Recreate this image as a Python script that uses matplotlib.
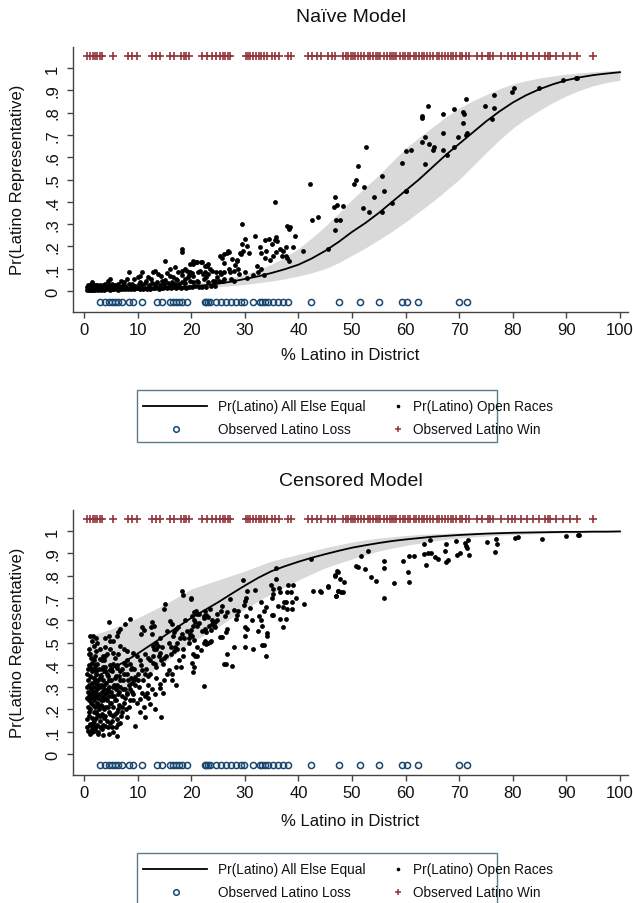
import matplotlib
matplotlib.use("Agg")
import matplotlib.pyplot as plt
from matplotlib.lines import Line2D
from matplotlib.patches import Rectangle

plt.rcParams['font.family'] = ['Liberation Sans', 'DejaVu Sans']

# ---------------- data ----------------
grid_x = [1, 2.5, 5, 7.5, 10, 12.5, 15, 17.5, 20, 22.5, 25, 27.5, 30, 32.5, 35, 37.5, 40, 42.5,
          45, 47.5, 50, 52.5, 55, 57.5, 60, 62.5, 65, 67.5, 70, 72.5, 75, 77.5, 80, 82.5, 85,
          87.5, 90, 92.5, 95, 97.5, 100]

naive_curve = [.004, .005, .006, .007, .009, .011, .014, .017, .021, .026, .033, .042, .054, .066,
               .081, .098, .118, .146, .18, .22, .265, .305, .35, .40, .45, .50, .555, .61, .66,
               .71, .76, .805, .845, .878, .905, .927, .945, .958, .968, .975, .981]
naive_upper = [.006, .007, .009, .011, .014, .018, .022, .028, .034, .041, .05, .061, .075, .095,
               .12, .152, .19, .238, .29, .348, .41, .465, .52, .58, .64, .688, .735, .78, .82,
               .852, .88, .907, .928, .943, .955, .964, .972, .978, .983, .987, .99]
naive_lower = [.002, .0025, .003, .004, .005, .006, .008, .010, .012, .015, .019, .024, .03, .037,
               .045, .055, .067, .082, .10, .127, .16, .193, .23, .268, .31, .355, .40, .45, .50,
               .56, .62, .677, .73, .773, .81, .845, .875, .90, .92, .935, .945]

cens_curve = [.335, .35, .38, .413, .45, .49, .53, .57, .61, .645, .68, .718, .755, .79, .82, .842,
              .862, .88, .896, .911, .925, .936, .946, .955, .962, .968, .974, .978, .982, .985,
              .988, .99, .992, .993, .994, .995, .996, .996, .997, .997, .998]
cens_upper = [.53, .54, .56, .585, .61, .64, .67, .705, .74, .76, .78, .80, .82, .843, .865, .88,
              .895, .91, .925, .938, .95, .96, .968, .974, .98, .984, .987, .99, .992, .994, .995,
              .996, .997, .997, .998, .998, .999, .999, .999, .999, 1.0]
cens_lower = [.22, .235, .26, .29, .32, .365, .41, .455, .50, .535, .57, .61, .65, .685, .72, .75,
              .78, .808, .835, .855, .875, .893, .91, .923, .935, .945, .955, .962, .968, .973,
              .977, .981, .984, .986, .988, .99, .991, .992, .993, .994, .995]

wins_x = [0.6, 1.1, 1.6, 2.0, 2.5, 3.0, 3.4, 5.5, 8.2, 8.9, 9.9, 12.7, 13.4, 14.2, 16.0, 16.7,
          18.1, 18.6, 19.0, 19.5, 22.0, 23.0, 23.8, 24.6, 25.3, 25.9, 26.3, 26.8, 27.2,
          30.2, 30.6, 31.0, 31.6, 32.1, 32.7, 33.1, 33.6, 34.2, 35.0, 35.7, 36.4, 38.0, 38.7,
          41.8, 42.6, 43.4, 44.2, 45.6, 46.2, 46.8,
          48.4, 48.9, 49.3, 49.8, 50.2, 50.6, 51.1, 51.7, 52.3, 52.9, 53.4, 53.9, 54.4, 54.8,
          55.3, 55.9, 56.6, 57.0, 57.4, 57.8, 58.3, 58.9, 59.5, 59.9, 60.4, 60.9, 61.5, 62.0,
          62.5, 63.0, 63.5, 64.0, 64.6, 65.2, 65.8, 66.3, 66.8, 67.3, 67.9, 68.4, 68.9, 69.5,
          70.1, 70.6, 71.2, 71.8, 73.3, 74.2, 75.3, 75.8, 76.3, 77.8, 79.2, 79.8, 80.4, 81.6,
          82.7, 83.8, 84.9, 86.0, 86.5, 87.0, 88.0, 89.4, 90.6, 91.9, 95.0]

losses_x = [3.0, 3.9, 4.6, 5.2, 5.8, 6.4, 7.1, 8.3, 9.1, 10.8, 13.6, 14.6, 16.1, 16.6, 17.1,
            17.7, 18.3, 19.3, 22.5, 22.8, 23.1, 23.5, 24.6, 25.5, 26.5, 27.5, 28.3, 29.3, 29.8,
            31.5, 32.9, 33.3, 33.8, 34.3, 35.2, 36.2, 37.1, 38.0, 42.3, 47.5, 51.5, 55.0, 59.3,
            60.2, 62.4, 70.0, 71.5]

# naive model: Pr(Latino) in open races (x, y)
naive_base = [
    (0.5, .004), (0.7, .008), (0.9, .005), (1.0, .010), (1.2, .006), (1.4, .004), (1.5, .009), (1.7, .006),
    (1.9, .011), (2.0, .005), (2.2, .008), (2.4, .012), (2.6, .006), (2.7, .010), (2.9, .007), (3.1, .005),
    (3.3, .011), (3.5, .008), (3.6, .013), (3.8, .006), (4.0, .009), (4.2, .012), (4.4, .007), (4.6, .010),
    (4.8, .006), (5.0, .013), (5.2, .008), (5.4, .011), (5.6, .007), (5.9, .012), (6.1, .009), (6.3, .006),
    (6.6, .013), (6.8, .010), (7.1, .008), (7.3, .014), (7.6, .009), (7.9, .012), (8.2, .007), (8.5, .013),
    (8.8, .010), (9.1, .015), (9.4, .008), (9.7, .012), (10.0, .014), (10.4, .010), (10.7, .016), (11.0, .009),
    (11.4, .013), (11.7, .011), (12.1, .016), (12.4, .010), (12.8, .014), (13.2, .012), (13.5, .017), (13.9, .011),
    (14.3, .015), (14.7, .013), (15.1, .018), (15.5, .012), (15.9, .016), (16.3, .014), (16.8, .019), (17.2, .013),
    (17.7, .017), (18.1, .015), (18.6, .020), (19.1, .014), (19.6, .018), (20.2, .016), (20.8, .021), (21.4, .017),
    (22.1, .020), (22.8, .019), (23.6, .022), (24.5, .024),
]
naive_mid = [
    (0.6, .018), (0.8, .025), (1.1, .015), (1.3, .030), (1.4, .039), (1.6, .020), (1.7, .031), (1.9, .024),
    (2.1, .017), (2.3, .028), (2.5, .028), (2.7, .020), (3.0, .025), (3.1, .024), (3.4, .018), (3.6, .027),
    (3.9, .021), (4.0, .031), (4.3, .019), (4.5, .046), (4.7, .026), (4.9, .054), (5.1, .022), (5.3, .030),
    (5.6, .019), (5.8, .027), (6.1, .023), (6.4, .032), (6.7, .020), (6.9, .046), (7.2, .026), (7.5, .039),
    (7.7, .021), (8.1, .054), (8.3, .084), (8.4, .030), (8.7, .024), (9.0, .033), (9.4, .054), (9.6, .022),
    (10.0, .061), (10.2, .030), (10.4, .039), (10.4, .069), (10.8, .084), (10.9, .026), (11.3, .035), (11.6, .046),
    (11.9, .061), (12.2, .028), (12.5, .054), (12.7, .037), (12.9, .084), (13.2, .090), (13.3, .030), (13.8, .076),
    (13.7, .040), (14.1, .026), (14.4, .069), (14.5, .045), (14.9, .032), (15.1, .136), (15.4, .080), (15.2, .050),
    (15.6, .035), (16.0, .099), (16.0, .069), (16.2, .028), (16.6, .061), (16.5, .042), (16.9, .106), (17.0, .033),
    (17.2, .054), (17.5, .084), (17.4, .048), (17.8, .030), (18.2, .091), (18.2, .188), (18.2, .173), (18.2, .070),
    (18.3, .040), (18.8, .099), (18.8, .054), (18.9, .034), (19.2, .090), (19.4, .061), (19.5, .070), (19.7, .121),
    (19.7, .084), (19.8, .045), (20.1, .080), (20.3, .136), (20.3, .069), (20.4, .120), (20.3, .039), (20.9, .132),
    (21.0, .130), (21.0, .045), (21.3, .084), (21.3, .039), (21.6, .090), (21.8, .129), (22.0, .130), (22.2, .076),
    (22.3, .055), (22.5, .114), (22.6, .085), (22.8, .061), (22.9, .110), (23.1, .121), (23.2, .075), (23.2, .039),
    (23.5, .100), (23.8, .090), (24.1, .045), (24.4, .046), (24.7, .084), (24.8, .065), (25.1, .045), (25.3, .158),
    (25.4, .085), (25.6, .076), (25.7, .150), (25.9, .046), (26.1, .166), (26.1, .125), (26.1, .055), (26.2, .084),
    (26.6, .170), (26.8, .180), (27.1, .099), (27.1, .175), (27.2, .085), (27.4, .054), (27.7, .143), (27.9, .090),
    (27.9, .045), (28.2, .115), (28.5, .140), (28.6, .136), (28.8, .100), (28.9, .076), (29.1, .170), (29.2, .166),
    (29.4, .300), (29.5, .210), (29.7, .180), (30.0, .235), (30.0, .085), (30.4, .200), (30.4, .060), (30.7, .170),
    (31.6, .070), (31.9, .245), (32.2, .110), (32.5, .085), (32.8, .196), (33.1, .170), (33.1, .100), (33.5, .070),
    (33.8, .230), (33.8, .150), (34.0, .180), (34.6, .235), (34.7, .140), (35.0, .210), (35.3, .155), (35.6, .230),
    (35.7, .400), (35.8, .240), (35.9, .175), (36.1, .225), (36.6, .190), (36.9, .155), (37.2, .180), (37.6, .196),
    (37.6, .155), (37.8, .290), (37.8, .150), (38.2, .280), (38.2, .136), (38.4, .285), (38.9, .196), (39.4, .245),
]
naive_high = [
    (40.9, .18), (42.2, .48), (42.5, .32), (43.7, .33), (45.5, .19), (46.8, .275), (46.7, .375), (46.9, .42),
    (47.2, .385), (47.0, .32), (47.7, .32), (48.4, .38), (50.4, .48), (50.8, .50), (51.2, .56), (52.2, .465),
    (52.1, .37), (52.7, .647), (53.1, .356), (54.1, .42), (55.6, .514), (55.6, .356), (56.0, .447), (57.5, .395),
    (59.3, .574), (60.0, .447), (60.1, .45), (60.1, .63), (61.1, .634), (63.0, .667), (63.1, .783), (63.1, .775),
    (63.6, .57), (63.7, .69), (64.2, .83), (64.4, .66), (65.2, .634), (65.3, .645), (66.9, .71), (67.0, .794),
    (67.0, .634), (67.7, .61), (69.0, .816), (69.0, .645), (69.7, .69), (70.8, .804), (70.8, .753), (70.9, .794),
    (71.2, .861), (71.3, .70), (71.4, .71), (74.8, .83), (76.1, .771), (76.5, .879), (76.5, .82), (79.9, .894),
    (80.2, .909), (84.9, .909), (89.4, .946), (91.8, .954), (92.0, .954),
]

# censored model: Pr(Latino) in open races (x, y)
cens_left = [
    (0.5, .30), (0.6, .25), (0.6, .36), (0.7, .21), (0.8, .28), (0.8, .33), (0.9, .17), (0.9, .40), (1.0, .24),
    (1.0, .31), (1.1, .13), (1.1, .27), (1.2, .35), (1.2, .20), (1.3, .29), (1.3, .43), (1.4, .16), (1.4, .25),
    (1.5, .32), (1.5, .11), (1.6, .22), (1.6, .38), (1.7, .27), (1.7, .14), (1.8, .30), (1.8, .19), (1.9, .34),
    (1.9, .24), (2.0, .12), (2.0, .28), (2.1, .21), (2.1, .40), (2.2, .26), (2.2, .16), (2.3, .32), (2.3, .36),
    (2.4, .23), (2.5, .29), (2.5, .18), (2.6, .33), (2.6, .10), (2.7, .25), (2.8, .20), (2.8, .38), (2.9, .30),
    (3.0, .15), (3.0, .27), (3.1, .35), (3.2, .22), (3.2, .31), (3.3, .18), (3.4, .26), (3.4, .42), (3.5, .33),
    (3.6, .13), (3.6, .24), (3.7, .29), (3.8, .20), (3.9, .37), (3.9, .27), (4.0, .17), (4.1, .32), (4.2, .24),
    (4.2, .45), (4.3, .28), (4.4, .21), (4.5, .35), (4.5, .12), (4.6, .30), (4.7, .26), (4.8, .18), (4.9, .40),
    (5.0, .33), (5.0, .23), (5.1, .28), (5.2, .15), (5.3, .37), (5.4, .30), (5.5, .21), (5.6, .26), (5.7, .34),
    (5.8, .18), (5.9, .29), (6.0, .24), (6.1, .40), (6.2, .31), (6.3, .20), (6.4, .27), (6.5, .35), (6.6, .22),
    (6.8, .30), (6.9, .17), (7.0, .26), (7.1, .38), (7.3, .33), (7.4, .23), (7.6, .29), (7.8, .20), (8.0, .36),
    (8.1, .27), (8.3, .31), (8.5, .24), (8.8, .34), (9.0, .28), (9.3, .38), (9.6, .31), (10.0, .36), (10.3, .30),
    (10.6, .40), (11.0, .33), (11.3, .45), (11.6, .38), (12.0, .43), (12.4, .36), (12.8, .41), (13.1, .47),
    (13.5, .39), (13.9, .44), (14.2, .52), (14.6, .48), (15.0, .43), (15.4, .55), (15.8, .50), (16.2, .45),
    (16.6, .53), (17.0, .48), (17.5, .57), (17.9, .52), (18.4, .47), (18.8, .60), (19.2, .55), (19.6, .50),
    (0.5, .157), (1.1, .135), (1.7, .127), (0.8, .105), (1.4, .097), (2.1, .112), (3.0, .12), (3.9, .127),
    (2.7, .09), (4.6, .09), (5.5, .097), (6.1, .082), (5.2, .12), (6.4, .135), (4.3, .15),
    (1.1, .53), (1.4, .508), (1.7, .528), (0.9, .47), (1.1, .448), (2.2, .52), (2.5, .50), (4.0, .52),
    (4.6, .53), (4.9, .505), (5.5, .508), (6.1, .53), (4.0, .48), (4.9, .47), (5.5, .455), (1.9, .485),
    (2.2, .46), (6.8, .485), (7.4, .47), (8.0, .46), (3.5, .438), (3.8, .42), (4.0, .44), (1.8, .42),
    (2.4, .405), (3.0, .428), (1.1, .39), (1.5, .37), (2.0, .385), (4.0, .39), (4.9, .375), (5.5, .405),
    (6.1, .385), (6.8, .37), (7.4, .36), (8.0, .42), (8.6, .405), (8.9, .385), (9.2, .455), (9.8, .44),
    (10.5, .42), (10.8, .375), (11.4, .36), (12.0, .35), (9.5, .345), (10.1, .33), (8.9, .32), (4.6, .59),
    (8.6, .605), (7.7, .583), (6.8, .56), (6.4, .546), (10.8, .568), (11.1, .557), (10.7, .538),
    (12.7, .59), (13.0, .575), (12.5, .568), (12.6, .538), (16.1, .598), (16.5, .583), (17.1, .56), (16.8, .546),
    (18.3, .536), (18.6, .518), (17.4, .50), (12.3, .42), (12.9, .44), (13.2, .405), (13.5, .47), (13.8, .485),
    (14.2, .455), (12.9, .485), (13.4, .50), (14.4, .42), (14.8, .405), (15.3, .44), (15.9, .375), (16.5, .36),
    (17.1, .39), (17.8, .42), (18.4, .44), (18.1, .39), (16.2, .478), (16.8, .46), (17.4, .47), (13.5, .34),
    (14.2, .315), (15.0, .33), (15.5, .36), (16.5, .33), (17.1, .31), (12.0, .31), (12.6, .29), (11.7, .275),
    (10.8, .275), (11.4, .26), (12.0, .25), (14.1, .295), (14.7, .275), (13.2, .27), (8.6, .29), (8.0, .275),
    (9.2, .27), (10.5, .245), (9.8, .23), (11.1, .21), (12.3, .225), (13.2, .20), (10.5, .19), (11.4, .165),
    (14.4, .168), (9.5, .125), (7.1, .19), (8.0, .165), (6.1, .155),
    (18.3, .73), (18.5, .713), (19.9, .698), (15.1, .673), (14.9, .65),
    (0.7, .38), (0.9, .26), (1.0, .19), (1.2, .30), (1.3, .23), (1.5, .41), (1.6, .28), (1.8, .25),
    (1.9, .15), (2.0, .33), (2.2, .37), (2.3, .19), (2.4, .27), (2.6, .22), (2.7, .31), (2.9, .17),
    (3.0, .34), (3.1, .24), (3.3, .28), (3.5, .21), (3.6, .39), (3.7, .16), (3.8, .31), (4.0, .25),
    (4.1, .21), (4.3, .36), (4.4, .29), (4.6, .19), (4.7, .33), (4.9, .23), (5.1, .38), (5.2, .26),
    (5.4, .17), (5.6, .31), (5.8, .24), (6.0, .35), (6.2, .19), (6.5, .28), (6.7, .33), (7.0, .21),
    (7.2, .29), (7.5, .41), (7.7, .25), (8.2, .33), (8.4, .21), (8.7, .38), (9.1, .24), (9.4, .33),
    (1.0, .45), (2.0, .44), (3.0, .47), (3.3, .38), (5.8, .43), (6.4, .45), (7.9, .40), (2.4, .13),
    (3.4, .11), (4.8, .14), (1.2, .09), (3.6, .085), (5.9, .12), (6.8, .14), (0.6, .12), (1.9, .105),
]
cens_right = [
    (35.8, .833), (42.4, .874), (29.6, .78), (35.9, .785), (47.2, .82), (46.9, .80), (47.7, .785), (48.6, .773),
    (45.5, .75), (47.4, .73), (48.3, .728), (47.1, .71), (42.7, .73), (44.0, .73), (41.1, .673), (38.0, .758),
    (39.0, .758), (37.9, .728), (38.6, .728), (36.3, .743), (36.6, .725), (35.2, .74), (34.8, .76), (35.3, .716),
    (35.1, .70), (39.6, .698), (38.8, .68), (37.7, .68), (37.3, .683), (37.1, .66), (36.2, .662), (37.8, .65),
    (38.8, .65), (36.5, .605), (37.6, .605), (37.2, .571), (35.0, .623), (35.3, .623), (34.0, .658), (33.0, .683),
    (33.5, .643), (32.7, .617), (33.1, .602), (33.2, .575), (32.5, .553), (34.2, .543), (34.1, .528), (33.2, .49),
    (33.5, .49), (34.0, .44), (31.3, .602), (31.9, .737), (30.5, .73), (30.2, .70), (30.0, .687), (29.9, .668),
    (30.9, .653), (30.2, .62), (30.0, .568), (30.5, .56), (30.0, .53), (31.6, .47), (30.0, .478), (28.5, .623),
    (28.3, .605), (28.8, .643), (28.0, .647), (27.3, .695), (26.6, .638), (26.3, .617), (26.7, .56), (26.4, .546),
    (25.8, .523), (25.4, .525), (26.6, .448), (26.4, .404), (27.7, .396), (27.9, .478), (25.8, .665), (25.6, .64),
    (24.8, .63), (24.5, .593), (23.8, .60), (23.5, .65), (22.5, .64), (22.8, .625), (23.2, .613), (22.3, .61),
    (23.3, .575), (23.6, .557), (24.3, .575), (22.5, .56), (22.8, .548), (22.3, .50), (22.8, .493), (23.5, .503),
    (23.7, .508), (22.0, .55), (21.5, .587), (21.1, .575), (20.7, .59), (20.3, .575), (20.5, .60), (20.1, .62),
    (20.5, .636), (20.9, .64), (21.1, .63), (20.0, .695), (19.9, .557), (20.1, .53), (20.5, .51), (20.3, .448),
    (20.7, .44), (21.1, .438), (20.1, .41), (20.6, .39), (20.3, .366), (22.3, .306), (21.4, .628), (22.4, .62),
    (23.8, .583), (24.4, .568), (19.8, .538), (19.5, .518), (21.1, .482), (22.6, .508), (23.2, .50), (21.8, .467),
    (24.8, .60), (26.1, .403),
    (44.3, .725), (45.6, .752), (47.3, .818), (46.9, .803), (47.1, .71), (47.3, .732), (48.0, .728), (50.7, .842),
    (51.2, .84), (51.7, .889), (53.0, .912), (52.5, .83), (53.5, .792), (54.4, .777), (56.0, .867), (55.9, .834),
    (56.0, .698), (57.9, .767), (59.6, .867), (60.4, .815), (60.7, .773), (60.7, .889), (61.5, .889), (63.5, .942),
    (63.5, .897), (64.2, .901), (64.8, .901), (63.8, .849), (64.6, .961), (65.5, .882), (66.0, .874), (67.5, .942),
    (67.4, .912), (67.5, .862), (68.0, .871), (69.4, .954), (69.6, .894), (70.1, .90), (71.0, .946), (71.3, .931),
    (71.5, .922), (71.6, .961), (71.8, .892), (75.2, .952), (76.7, .907), (76.9, .964), (77.1, .942), (80.5, .967),
    (80.9, .972), (85.4, .964), (89.9, .976), (92.1, .982), (92.4, .982),
]

WIN_Y = 1.055
LOSS_Y = -0.05

# ---------------- style ----------------
W, H = 633, 904
NAVY = '#1a476f'
CRAN = '#90353b'
BAND = '#d9d9d9'
AXC = '#444444'

fig = plt.figure(figsize=(W / 100, H / 100), dpi=100)
fig.patch.set_facecolor('white')


def fx(px):
    return px / W


def fy(py):
    return 1 - py / H


def panel(bottom_px, top_px, title, title_y, xlabel_y, ylabel_y,
          cx, cy, up, lo, pts_groups):
    left_px, right_px = 73.3, 628
    ax = fig.add_axes([fx(left_px), fy(bottom_px), (right_px - left_px) / W,
                       (bottom_px - top_px) / H])
    ax.set_xlim(-2.0, 101.5)
    ax.set_ylim(-0.094, 1.094)
    ax.fill_between(cx, lo, up, color=BAND, lw=0, zorder=1)
    ax.plot(cx, cy, color='black', lw=1.3, zorder=3)
    for pts in pts_groups:
        ax.scatter([p[0] for p in pts], [p[1] for p in pts], s=12, color='black',
                   linewidths=0, zorder=4)
    ax.plot(wins_x, [WIN_Y] * len(wins_x), ls='none', marker='+', ms=5.2,
            mew=1.2, color=CRAN, zorder=4)
    ax.plot(losses_x, [LOSS_Y] * len(losses_x), ls='none', marker='o', ms=4.4,
            mew=1.1, mfc='none', mec=NAVY, zorder=4)
    for s in ('top', 'right'):
        ax.spines[s].set_visible(False)
    for s in ('left', 'bottom'):
        ax.spines[s].set_color(AXC)
        ax.spines[s].set_linewidth(1.0)
    ax.set_xticks(range(0, 101, 10))
    ax.set_xticklabels([str(v) for v in range(0, 101, 10)])
    yt = [i / 10 for i in range(11)]
    ax.set_yticks(yt)
    ax.set_yticklabels(['0', '.1', '.2', '.3', '.4', '.5', '.6', '.7', '.8', '.9', '1'])
    ax.tick_params(axis='both', color=AXC, length=4.5, width=1.0, labelsize=12,
                   labelcolor='#111111')
    ax.tick_params(axis='x', pad=2.5)
    ax.tick_params(axis='y', pad=5, labelrotation=90)
    for lab in ax.get_yticklabels():
        lab.set_va('center')
    fig.text(fx(350.5), fy(title_y), title, ha='center', va='center', fontsize=14,
             color='#111111')
    fig.text(fx(350.5), fy(xlabel_y), '% Latino in District', ha='center',
             va='center', fontsize=12, color='#111111')
    fig.text(fx(18), fy(ylabel_y), 'Pr(Latino Representative)', ha='center',
             va='center', rotation=90, fontsize=12, color='#111111')
    return ax


def legend(top_px):
    left, right = 137, 497
    h = 52.6
    fig.add_artist(Rectangle((fx(left), fy(top_px + h)), (right - left) / W, h / H,
                             transform=fig.transFigure, fill=False,
                             edgecolor='#5b7b86', lw=1.0))
    r1 = top_px + 16.5
    r2 = top_px + 39.3
    fig.add_artist(Line2D([fx(143), fx(207)], [fy(r1), fy(r1)], color='black',
                          lw=1.3, transform=fig.transFigure))
    fig.add_artist(Line2D([fx(176)], [fy(r2)], ls='none', marker='o', ms=4.0,
                          mew=1.1, mfc='none', mec=NAVY, transform=fig.transFigure))
    fig.add_artist(Line2D([fx(398)], [fy(r1)], ls='none', marker='o', ms=2.6,
                          mew=0, color='black', transform=fig.transFigure))
    fig.add_artist(Line2D([fx(398)], [fy(r2)], ls='none', marker='+', ms=5.0,
                          mew=1.1, color=CRAN, transform=fig.transFigure))
    kw = dict(ha='left', va='center', fontsize=9.8, color='#111111')
    fig.text(fx(218), fy(r1), 'Pr(Latino) All Else Equal', **kw)
    fig.text(fx(218), fy(r2), 'Observed Latino Loss', **kw)
    fig.text(fx(413), fy(r1), 'Pr(Latino) Open Races', **kw)
    fig.text(fx(413), fy(r2), 'Observed Latino Win', **kw)


panel(313, 48, 'Naïve Model', 17, 356, 180,
      grid_x, naive_curve, naive_upper, naive_lower,
      [naive_base, naive_mid, naive_high])
legend(390.7)

panel(776, 511, 'Censored Model', 482, 822, 643,
      grid_x, cens_curve, cens_upper, cens_lower,
      [cens_left, cens_right])
legend(853.7)

fig.savefig('out.png', dpi=100, facecolor='white')
